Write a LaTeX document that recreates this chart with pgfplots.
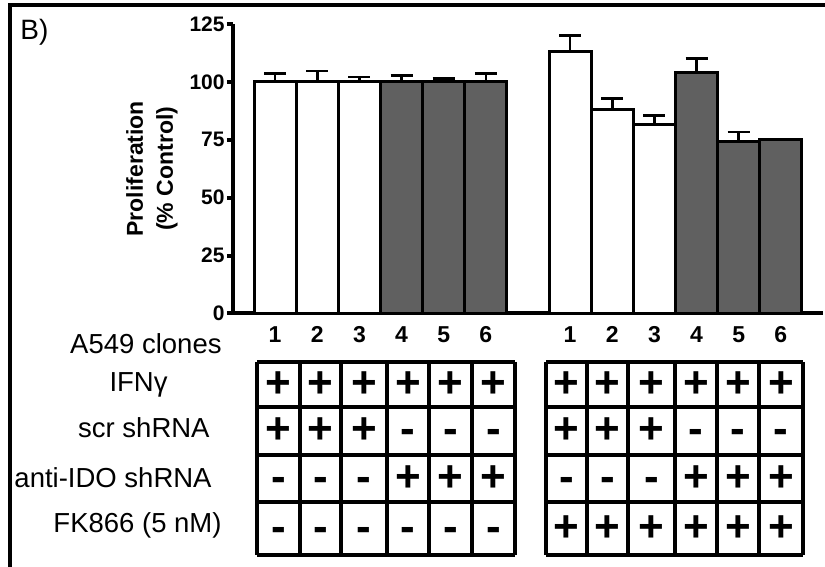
\documentclass[border=0pt]{standalone}
\usepackage{pgfplots}
\pgfplotsset{compat=1.18}
\usepackage{fontspec}
\setmainfont{Liberation Sans}
\definecolor{barg}{RGB}{96,96,96}
\newcommand\sg[1]{\fontsize{22}{22}\selectfont\bfseries\vphantom{+}#1}
\begin{document}
\begin{tikzpicture}
\useasboundingbox (-116.5pt,-126.75pt) rectangle (296pt,156.75pt);
\begin{axis}[
 at={(0,0)}, anchor=south west,
 scale only axis, width=295pt, height=144.75pt,
 xmin=0, xmax=14, ymin=0, ymax=125,
 axis x line*=bottom, axis y line*=left,
 axis line style={line width=2pt},
 ytick={0,25,50,75,100,125},
 xtick={1,2,3,4,5,6,8,9,10,11,12,13},
 xticklabels={1,2,3,4,5,6,1,2,3,4,5,6},
 x tick style={draw=none},
 y tick style={line width=2pt, black},
 tick align=outside,
 major tick length=3pt,
 /pgf/number format/assume math mode=true,
 yticklabel style={font=\bfseries\fontsize{10.5}{11}\selectfont, inner sep=1pt},
 xticklabel style={font=\bfseries\fontsize{11.5}{12}\selectfont},
 ylabel={Proliferation\\(\% Control)},
 ylabel style={at={(axis description cs:-0.1373,0.5)}, anchor=center, align=center, font=\bfseries\fontsize{11.5}{15}\selectfont},
 ybar, bar width=1, bar shift=0pt,
 clip=false,
]
\addplot[fill=white, draw=black, line width=1.5pt,
  error bars/.cd, y dir=plus, y explicit,
  error bar style={line width=1.25pt, black},
  error mark options={line width=1.25pt, mark size=5.5pt, black, rotate=90}]
 coordinates {(1,100) +- (0,3.7) (2,100) +- (0,4.8) (3,100) +- (0,2.2)
              (8,113.1) +- (0,7.0) (9,87.9) +- (0,5.0) (10,81.7) +- (0,3.7)};
\addplot[fill=barg, draw=black, line width=1.5pt,
  error bars/.cd, y dir=plus, y explicit,
  error bar style={line width=1.25pt, black},
  error mark options={line width=1.25pt, mark size=5.5pt, black, rotate=90}]
 coordinates {(4,100) +- (0,2.7) (5,100) +- (0,1.4) (6,100) +- (0,3.7)
              (11,104.2) +- (0,6.0) (12,74.3) +- (0,4.1) (13,75.0) +- (0,0.3)};
\end{axis}
\begin{scope}[shift={(-116.5pt,156.75pt)}, x=0.5pt, y=-0.5pt]
 \draw[line width=2pt] (10,580) -- (10,5) -- (840,5);
 \node[anchor=base west, inner sep=0, font=\fontsize{14}{14}\selectfont] at (20,40) {B)};
 \begin{scope}[every node/.style={anchor=base east, inner sep=0, font=\fontsize{13.75}{14}\selectfont}]
  \node at (222,354) {A549 clones};
  \node at (168,392) {IFNγ};
  \node at (210,438) {scr shRNA};
  \node at (212,488) {anti-IDO shRNA};
  \node at (222,533) {FK866 (5 nM)};
 \end{scope}
 \begin{scope}[line width=1.75pt]
  \foreach \y in {362,407,455,502,555} {
    \draw (257,\y) -- (515,\y);
    \draw (546,\y) -- (803,\y);
  }
  \foreach \x in {257,300,341,387,429,472,515,546,587,628,675,717,759,803} {
    \draw (\x,362) -- (\x,555);
  }
 \end{scope}
 \begin{scope}[every node/.style={anchor=center, inner sep=0}]
  \foreach \x/\s in {278.5/+,320.5/+,364/+,408/+,450.5/+,493.5/+,566.5/+,607.5/+,651.5/+,696/+,738/+,781/+}
    \node at (\x,384.5) {\sg{\s}};
  \foreach \x/\s in {278.5/+,320.5/+,364/+,408/-,450.5/-,493.5/-,566.5/+,607.5/+,651.5/+,696/-,738/-,781/-}
    \node at (\x,431) {\sg{\s}};
  \foreach \x/\s in {278.5/-,320.5/-,364/-,408/+,450.5/+,493.5/+,566.5/-,607.5/-,651.5/-,696/+,738/+,781/+}
    \node at (\x,478.5) {\sg{\s}};
  \foreach \x/\s in {278.5/-,320.5/-,364/-,408/-,450.5/-,493.5/-,566.5/+,607.5/+,651.5/+,696/+,738/+,781/+}
    \node at (\x,528.5) {\sg{\s}};
 \end{scope}
\end{scope}
\end{tikzpicture}
\end{document}
